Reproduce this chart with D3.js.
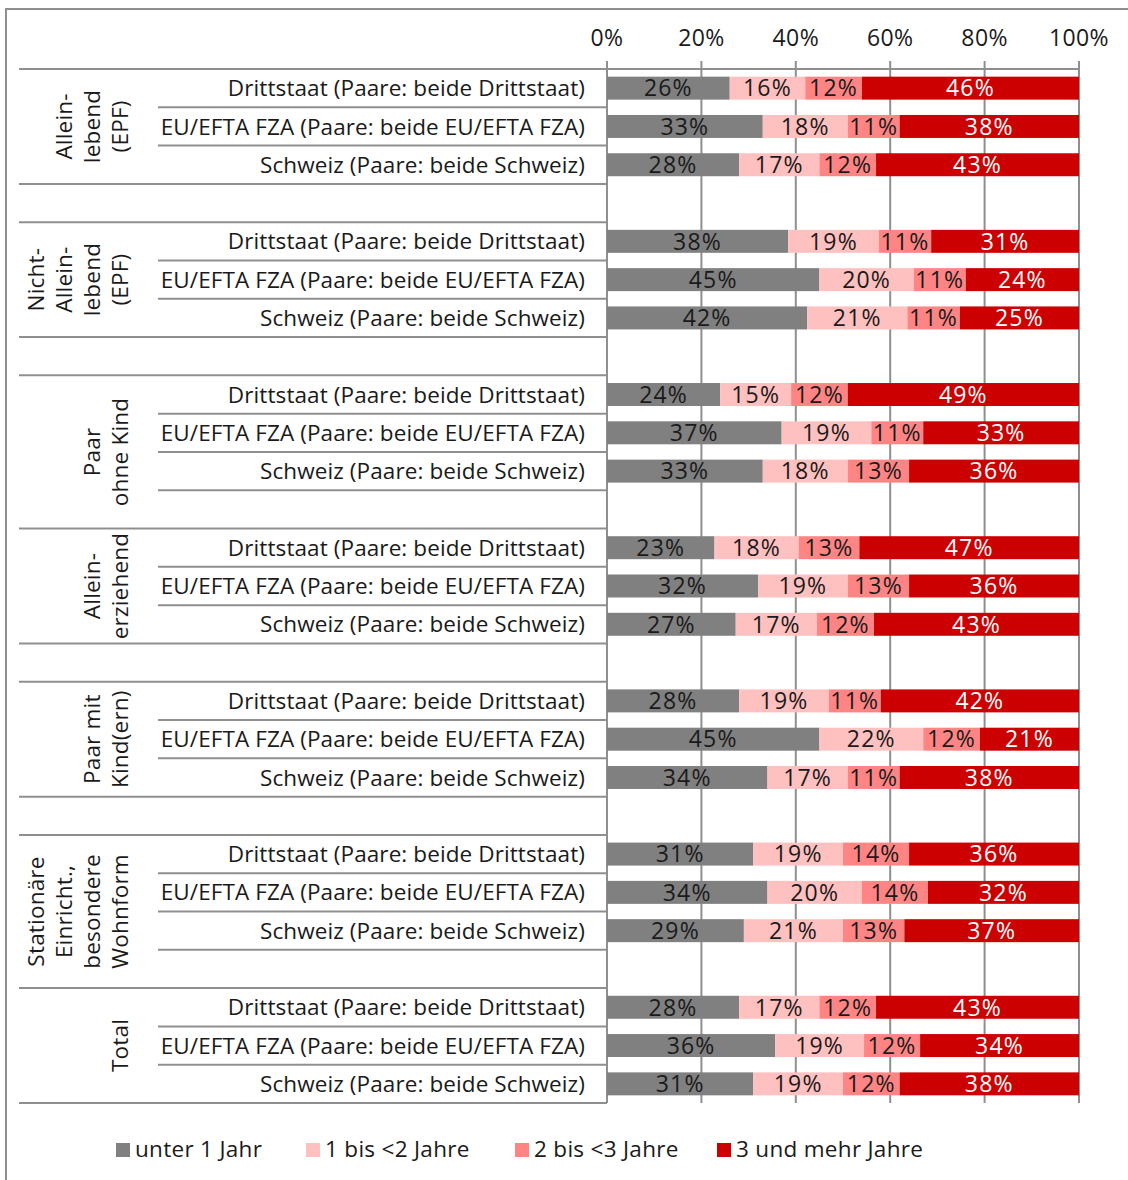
<!DOCTYPE html>
<html>
<head>
<meta charset="utf-8">
<script src="https://cdn.jsdelivr.net/npm/d3@7"></script>
<style>
  body { margin: 0; background: #fff; }
  svg { display: block; font-family: "Open Sans", sans-serif; }
</style>
</head>
<body>
<svg width="1128" height="1180"></svg>
<script>
var width = 1128;
var height = 1180;

// Data
var seriesNames = ["unter 1 Jahr", "1 bis <2 Jahre", "2 bis <3 Jahre", "3 und mehr Jahre"];
var seriesColors = ["#808080", "#ffc0c0", "#ff8585", "#cc0000"];
var labelColors = ["#1a1a1a", "#1a1a1a", "#1a1a1a", "#ffffff"];
var rowNames = ["Drittstaat (Paare: beide Drittstaat)", "EU/EFTA FZA (Paare: beide EU/EFTA FZA)", "Schweiz (Paare: beide Schweiz)"];
var groupNames = [
    ["Allein-", "lebend", "(EPF)"],
    ["Nicht-", "Allein-", "lebend", "(EPF)"],
    ["Paar", "ohne Kind"],
    ["Allein-", "erziehend"],
    ["Paar mit", "Kind(ern)"],
    ["Stationäre", "Einricht.,", "besondere", "Wohnform"],
    ["Total"]
];
// 1 = group takes the empty row that follows it
var groupHasGap = [0, 0, 1, 0, 0, 1, 0];
var tickValues = [0, 0.2, 0.4, 0.6, 0.8, 1];

var g1 = [[26, 16, 12, 46], [33, 18, 11, 38], [28, 17, 12, 43]];
var g2 = [[38, 19, 11, 31], [45, 20, 11, 24], [42, 21, 11, 25]];
var g3 = [[24, 15, 12, 49], [37, 19, 11, 33], [33, 18, 13, 36]];
var g4 = [[23, 18, 13, 47], [32, 19, 13, 36], [27, 17, 12, 43]];
var g5 = [[28, 19, 11, 42], [45, 22, 12, 21], [34, 17, 11, 38]];
var g6 = [[31, 19, 14, 36], [34, 20, 14, 32], [29, 21, 13, 37]];
var g7 = [[28, 17, 12, 43], [36, 19, 12, 34], [31, 19, 12, 38]];
var groupValues = [g1, g2, g3, g4, g5, g6, g7];

// Build the slot list (rows + empty spacer rows)
var slots = [];
groupValues.forEach(function(g, gi) {
    g.forEach(function(v, ri) {
        slots.push({ group: gi, name: rowNames[ri], values: v });
    });
    if (gi < groupValues.length - 1) {
        slots.push({ group: groupHasGap[gi] ? gi : "gap" + gi, name: "", values: null });
    }
});
slots.forEach(function(s, i) { s.id = i; });

var svg = d3.select("svg");

var plotTop = 69;
var plotBottom = 1103;
var xscale = d3.scaleLinear().domain([0, 1]).range([607, 1079]);
var yscale = d3.scaleBand()
    .domain(slots.map(function(s) { return s.id; }))
    .range([plotTop, plotBottom])
    .paddingInner(0.4)
    .paddingOuter(0.2);
var step = yscale.step();

// outer frame
svg.append("path")
    .attr("d", "M6,1180 V9 H1128")
    .attr("fill", "none")
    .attr("stroke", "#8f8f8f")
    .attr("stroke-width", 2);

// gridlines
svg.append("g").selectAll("line")
    .data(tickValues)
    .enter().append("line")
    .attr("x1", function(d) { return xscale(d); })
    .attr("x2", function(d) { return xscale(d); })
    .attr("y1", 61)
    .attr("y2", plotBottom)
    .attr("stroke", "#8f8f8f")
    .attr("stroke-width", 2);

// top tick labels
svg.append("g").selectAll("text")
    .data(tickValues)
    .enter().append("text")
    .attr("x", function(d) { return xscale(d); })
    .attr("y", 46)
    .attr("text-anchor", "middle")
    .attr("font-size", 23)
    .attr("letter-spacing", 0.4)
    .attr("fill", "#1a1a1a")
    .text(d3.format(".0%"));

// stacked bars
var rows = slots.filter(function(s) { return s.values; });
var stack = d3.stack()
    .keys([0, 1, 2, 3])
    .value(function(d, k) { return d.values[k]; })
    .offset(d3.stackOffsetExpand);
var layers = stack(rows);

var layer = svg.append("g").selectAll("g")
    .data(layers)
    .enter().append("g")
    .attr("fill", function(d, i) { return seriesColors[i]; });

layer.selectAll("rect")
    .data(function(d) { return d; })
    .enter().append("rect")
    .attr("x", function(d) { return xscale(d[0]); })
    .attr("width", function(d) { return xscale(d[1]) - xscale(d[0]); })
    .attr("y", function(d) { return yscale(d.data.id); })
    .attr("height", yscale.bandwidth());

layers.forEach(function(l, i) {
    svg.append("g").selectAll("text")
        .data(l)
        .enter().append("text")
        .attr("x", function(d) { return (xscale(d[0]) + xscale(d[1])) / 2; })
        .attr("y", function(d) { return yscale(d.data.id) + yscale.bandwidth() / 2; })
        .attr("dy", "0.36em")
        .attr("text-anchor", "middle")
        .attr("font-size", 23)
        .attr("letter-spacing", 1.2)
        .attr("fill", labelColors[i])
        .text(function(d) { return d.data.values[i] + "%"; });
});

// category labels
svg.append("g").selectAll("text")
    .data(rows)
    .enter().append("text")
    .attr("x", 585)
    .attr("y", function(d) { return yscale(d.id) + yscale.bandwidth() / 2; })
    .attr("dy", "0.36em")
    .attr("text-anchor", "end")
    .attr("font-size", 22.5)
    .attr("letter-spacing", 0.1)
    .attr("fill", "#1a1a1a")
    .text(function(d) { return d.name; });

// separator lines at slot boundaries
var bounds = d3.range(slots.length + 1);
svg.append("g").selectAll("line")
    .data(bounds)
    .enter().append("line")
    .attr("x1", function(k) {
        if (k === 0 || k === slots.length) return 19;
        return slots[k - 1].group === slots[k].group ? 158 : 19;
    })
    .attr("x2", function(k) { return k === 0 ? 1079 : 607; })
    .attr("y1", function(k) { return plotTop + k * step; })
    .attr("y2", function(k) { return plotTop + k * step; })
    .attr("stroke", "#8f8f8f")
    .attr("stroke-width", 2);

// group labels (rotated)
groupNames.forEach(function(lines, gi) {
    var members = slots.filter(function(s) { return s.group === gi; });
    var y0 = plotTop + members[0].id * step;
    var y1 = plotTop + (members[members.length - 1].id + 1) * step;
    var cy = (y0 + y1) / 2;
    var n = lines.length;
    lines.forEach(function(line, li) {
        var bx = 128 - 28 * (n - 1 - li);
        svg.append("text")
            .attr("transform", "translate(" + bx + "," + cy + ") rotate(-90)")
            .attr("text-anchor", "middle")
            .attr("font-size", 22.5)
            .attr("letter-spacing", 0.2)
            .attr("fill", "#1a1a1a")
            .text(line);
    });
});

// legend
var legendX = [116, 306, 515, 717];
var legend = svg.append("g").selectAll("g")
    .data(seriesNames)
    .enter().append("g")
    .attr("transform", function(d, i) { return "translate(" + legendX[i] + ",1143)"; });
legend.append("rect")
    .attr("width", 14)
    .attr("height", 14)
    .attr("fill", function(d, i) { return seriesColors[i]; });
legend.append("text")
    .attr("x", 19)
    .attr("y", 14)
    .attr("font-size", 22.5)
    .attr("letter-spacing", 0.3)
    .attr("fill", "#1a1a1a")
    .text(function(d) { return d; });
</script>
</body>
</html>
